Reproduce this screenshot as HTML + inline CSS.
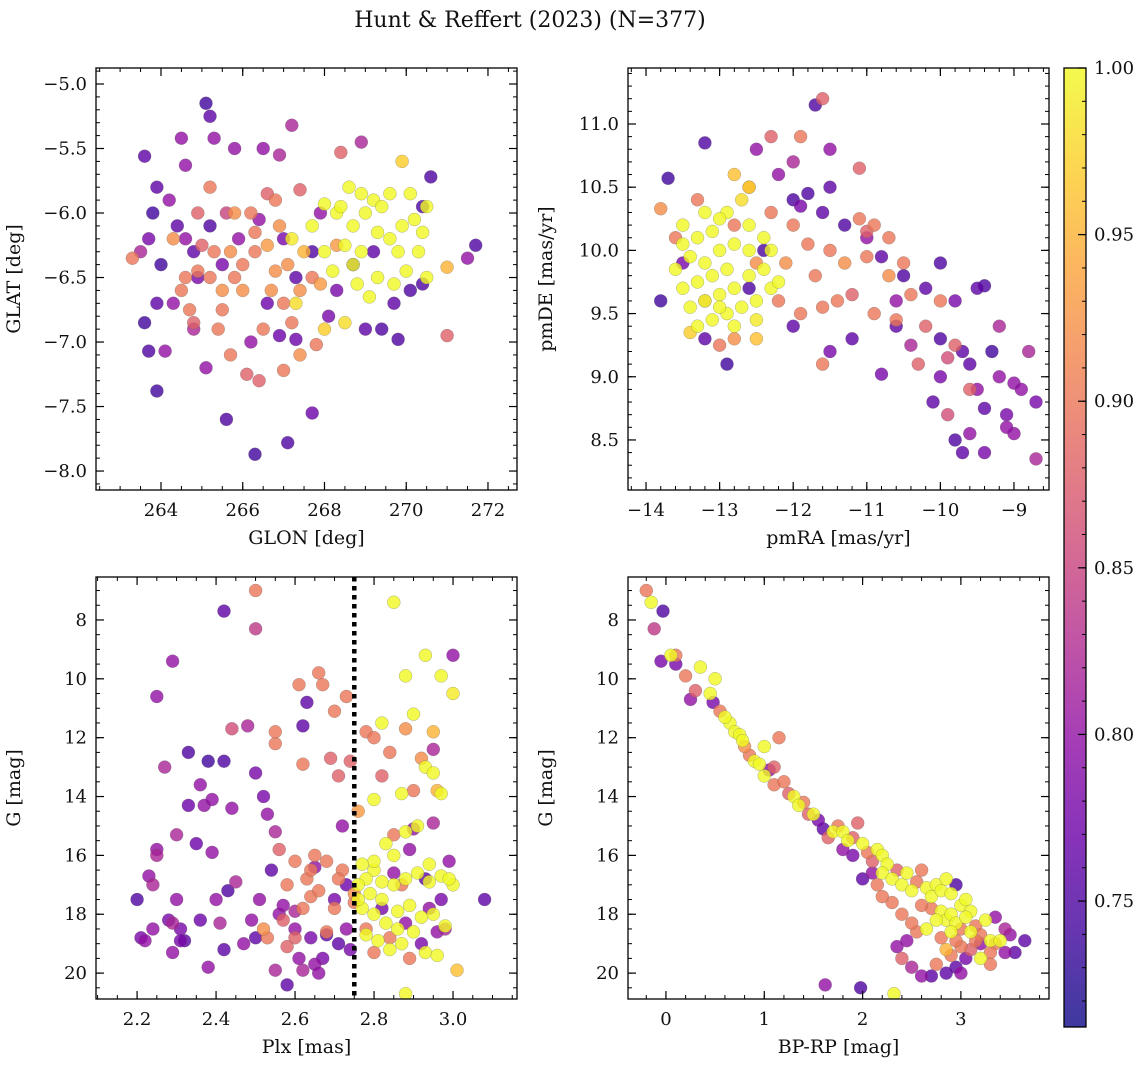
<!DOCTYPE html>
<html><head><meta charset="utf-8"><style>
html,body{margin:0;padding:0;background:#fff;}
svg{display:block;font-family:"DejaVu Serif","Liberation Serif",serif;}
</style></head><body>
<svg id="fig" width="1148" height="1067" viewBox="0 0 1148 1067" xmlns="http://www.w3.org/2000/svg">
<text x="530" y="27" font-size="22" text-anchor="middle" fill="#111">Hunt &amp; Reffert (2023) (N=377)</text>
</svg>
<script>
// Panel 1: GLON / GLAT / membership probability
const p1x=[265.1,265.2,264.5,264.6,263.6,265.3,265.8,266.5,267.2,266.9,263.9,263.8,263.7,263.5,264.2,264.4,264.0,263.9,263.6,263.7,264.1,263.9,264.3,264.8,265.1,265.6,266.3,267.1,267.7,266.2,266.6,265.5,265.9,266.4,267.0,267.3,267.7,268.3,268.7,269.2,269.0,269.4,269.7,270.1,270.4,269.8,270.6,270.4,271.7,271.5,268.9,267.9,268.1,265.2,264.9,266.9,267.3,264.8,265.6,264.6,
263.3,264.3,264.6,264.9,265.2,265.5,265.8,266.0,266.3,266.7,267.0,267.4,267.7,266.2,265.8,265.2,265.0,264.7,264.8,265.4,265.7,266.1,266.4,267.0,267.4,267.2,266.5,266.0,266.3,266.8,266.9,267.5,267.9,268.3,267.8,268.4,267.4,266.6,265.7,264.5,265.5,266.8,266.6,267.1,271.0,271.0,264.9,265.3,
268.0,268.3,268.6,268.9,269.2,269.6,269.9,269.0,268.7,268.5,268.9,269.3,269.6,269.9,270.2,270.5,270.3,270.0,269.7,269.3,268.8,268.2,268.0,267.7,269.1,268.5,268.0,267.3,270.5,269.4,270.1,268.4,269.8,268.7,270.4,267.2];
const p1y=[-5.15,-5.25,-5.42,-5.63,-5.56,-5.42,-5.5,-5.5,-5.32,-5.55,-5.8,-6.0,-6.2,-6.3,-5.9,-6.1,-6.4,-6.7,-6.85,-7.07,-7.07,-7.38,-6.7,-6.9,-7.2,-7.6,-7.87,-7.78,-7.55,-7.0,-6.7,-6.4,-6.2,-6.05,-6.2,-6.5,-6.3,-6.6,-6.4,-6.3,-6.9,-6.9,-6.7,-6.6,-6.55,-6.98,-5.72,-5.95,-6.25,-6.35,-5.45,-6.0,-6.8,-6.1,-6.5,-6.95,-6.98,-6.3,-6.0,-6.2,
-6.35,-6.2,-6.5,-6.45,-6.5,-6.6,-6.5,-6.4,-6.3,-6.6,-6.7,-6.6,-6.5,-6.0,-6.0,-5.8,-6.25,-6.75,-6.85,-6.9,-7.1,-7.25,-7.3,-7.22,-7.1,-6.85,-6.9,-6.6,-6.15,-5.9,-6.1,-6.3,-6.55,-6.25,-7.02,-5.53,-5.82,-5.85,-6.3,-6.6,-6.75,-6.45,-6.25,-6.4,-6.95,-6.42,-6.0,-6.3,
-5.93,-6.0,-5.8,-5.85,-5.9,-5.85,-5.6,-6.0,-6.1,-6.25,-6.3,-6.15,-6.2,-6.1,-6.05,-5.95,-6.3,-6.45,-6.55,-6.5,-6.55,-6.45,-6.3,-6.1,-6.65,-6.85,-6.9,-6.7,-6.5,-5.95,-5.85,-5.95,-6.3,-6.4,-6.15,-6.2];
const p1c=[0.74,0.76,0.8,0.8,0.76,0.8,0.8,0.8,0.82,0.82,0.76,0.74,0.78,0.82,0.8,0.76,0.74,0.76,0.74,0.75,0.8,0.74,0.8,0.82,0.8,0.75,0.74,0.75,0.77,0.8,0.77,0.78,0.8,0.8,0.78,0.76,0.75,0.78,0.74,0.76,0.76,0.75,0.76,0.75,0.75,0.75,0.75,0.75,0.75,0.8,0.82,0.8,0.78,0.75,0.78,0.77,0.77,0.76,0.85,0.8,
0.9,0.92,0.9,0.9,0.9,0.92,0.9,0.9,0.9,0.92,0.9,0.92,0.9,0.9,0.92,0.9,0.88,0.9,0.88,0.9,0.9,0.88,0.88,0.9,0.92,0.9,0.9,0.92,0.9,0.9,0.92,0.95,0.93,0.93,0.9,0.88,0.88,0.88,0.92,0.9,0.9,0.92,0.93,0.92,0.88,0.95,0.88,0.9,
1,1,1,1,1,1,0.97,1,1,1,1,1,1,1,1,1,1,1,1,1,1,1,1,1,1,0.98,0.97,0.98,1,1,1,1,1,1,1,0.99];

// Panel 2: pmRA / pmDE
const p2x=[-11.7,-13.2,-13.7,-13.8,-13.5,-13.2,-12.9,-12.4,-12.2,-12.0,-11.8,-11.5,-11.6,-11.3,-11.0,-10.8,-10.5,-10.0,-10.2,-9.8,-9.5,-9.4,-10.0,-9.7,-9.3,-9.6,-10.0,-10.1,-9.5,-9.2,-9.0,-8.9,-9.1,-9.4,-9.8,-9.7,-9.4,-9.6,-9.0,-8.8,-8.7,-8.7,-9.1,-10.6,-11.2,-11.5,-10.8,-12.0,-12.6,-11.9,-9.2,-10.4,-12.5,-12.0,-11.5,-10.6,
-13.8,-13.6,-13.3,-12.8,-12.6,-12.3,-12.0,-11.8,-11.5,-11.3,-11.0,-10.7,-10.9,-11.1,-11.0,-11.4,-11.7,-12.1,-12.2,-11.9,-11.6,-11.2,-10.9,-10.6,-10.4,-10.2,-10.0,-10.3,-9.9,-9.8,-9.6,-9.9,-11.6,-11.9,-12.3,-12.8,-12.8,-12.5,-13.4,-13.0,-11.1,-10.7,-13.2,-11.6,-12.5,-10.5,
-13.5,-13.3,-13.1,-13.4,-13.2,-13.0,-12.8,-12.6,-12.9,-13.1,-13.3,-13.5,-13.4,-13.2,-13.0,-12.8,-12.6,-12.4,-12.7,-12.9,-13.1,-12.5,-12.3,-12.6,-12.9,-12.7,-12.6,-13.6,-13.5,-13.0,-12.3,-12.2,-13.2,-12.8,-12.5,-13.3,-12.4,-13.0];
const p2y=[11.15,10.85,10.57,9.6,9.9,9.3,9.1,10.0,10.6,10.4,10.45,10.5,10.3,10.2,10.1,9.95,9.8,9.9,9.7,9.6,9.7,9.72,9.3,9.2,9.2,9.1,9.0,8.8,8.9,9.0,8.95,8.9,8.7,8.75,8.5,8.4,8.4,8.55,8.55,9.2,8.8,8.35,8.6,9.4,9.3,9.2,9.02,9.4,9.7,10.35,9.4,9.25,10.8,10.7,10.8,9.6,
10.33,10.1,10.4,10.2,10.5,10.3,10.2,10.05,10.0,9.9,9.95,9.8,10.2,10.25,10.15,9.6,9.8,9.9,9.6,9.5,9.55,9.65,9.5,9.45,9.65,9.4,9.6,9.1,9.15,9.25,8.9,8.7,11.2,10.9,10.9,10.6,9.3,9.3,9.35,9.25,10.65,10.1,9.6,9.1,9.9,9.9,
10.2,10.1,10.15,9.95,9.9,10.0,10.05,10.0,9.85,9.8,9.75,9.7,9.55,9.6,9.65,9.7,9.8,9.85,9.55,9.5,9.45,9.6,9.7,10.2,10.3,10.4,10.5,9.85,10.05,10.25,10.0,9.75,10.3,9.4,9.45,9.4,10.1,9.55];
const p2c=[0.75,0.75,0.74,0.74,0.78,0.76,0.74,0.75,0.8,0.75,0.75,0.76,0.76,0.75,0.8,0.76,0.75,0.75,0.76,0.78,0.76,0.75,0.75,0.76,0.74,0.76,0.78,0.76,0.8,0.8,0.8,0.8,0.78,0.76,0.75,0.76,0.78,0.8,0.8,0.82,0.78,0.82,0.8,0.76,0.76,0.78,0.78,0.76,0.75,0.78,0.82,0.82,0.8,0.82,0.8,0.8,
0.92,0.9,0.9,0.9,0.92,0.9,0.9,0.9,0.9,0.92,0.9,0.92,0.9,0.9,0.88,0.9,0.9,0.92,0.9,0.9,0.9,0.88,0.9,0.9,0.9,0.88,0.9,0.88,0.86,0.88,0.88,0.86,0.88,0.9,0.88,0.96,0.92,0.96,0.97,0.9,0.88,0.9,0.9,0.9,0.92,0.9,
1,1,1,1,1,1,1,1,1,1,1,1,1,1,1,1,1,1,1,1,1,1,1,1,1,0.98,0.97,1,1,1,1,1,1,1,0.99,1,1,1];

// Panel 3: Plx / G
const p3x=[2.2,2.21,2.22,2.23,2.24,2.25,2.25,2.25,2.24,2.27,2.28,2.29,2.29,2.29,2.3,2.3,2.31,2.31,2.32,2.33,2.33,2.35,2.36,2.36,2.37,2.38,2.38,2.39,2.39,2.4,2.41,2.42,2.42,2.43,2.44,2.45,2.42,2.47,2.48,2.49,2.5,2.5,2.51,2.52,2.53,2.54,2.55,2.56,2.57,2.58,2.6,2.61,2.62,2.63,2.64,2.65,2.66,2.67,2.68,2.7,2.71,2.72,2.73,2.74,2.73,2.55,2.6,2.62,2.5,2.65,2.9,2.93,2.94,2.95,2.96,2.97,2.92,2.88,2.85,2.89,3.0,3.08,2.98,2.95,2.99,2.82,
2.5,2.55,2.56,2.58,2.6,2.61,2.62,2.63,2.64,2.65,2.66,2.67,2.68,2.69,2.7,2.71,2.72,2.73,2.74,2.75,2.76,2.78,2.8,2.82,2.84,2.85,2.87,2.88,2.9,2.92,2.95,2.96,3.01,2.7,2.68,2.64,2.6,2.57,2.62,2.66,2.71,2.78,2.8,2.84,2.89,2.75,2.58,2.53,2.55,2.44,2.52,
2.85,2.88,2.93,2.97,3.0,2.82,2.9,2.93,2.95,2.97,2.8,2.87,2.91,2.88,2.85,2.8,2.78,2.76,2.79,2.82,2.85,2.88,2.91,2.94,2.97,3.0,2.77,2.8,2.83,2.86,2.89,2.92,2.95,2.98,2.78,2.81,2.84,2.87,2.9,2.93,2.96,2.8,2.83,2.86,2.77,2.88,2.76,2.82,2.94,2.99];
const p3y=[17.5,18.8,18.9,16.7,17.0,15.8,16.0,10.6,18.5,13.0,18.2,9.4,18.3,19.3,17.5,15.3,18.5,18.9,18.9,14.3,12.5,15.6,13.6,18.2,14.3,12.8,19.8,14.1,15.9,17.5,18.3,12.8,19.2,17.2,14.4,16.9,7.7,19.0,11.6,18.2,13.2,18.8,17.5,14.0,14.6,16.5,19.9,18.0,17.7,20.4,18.5,19.5,11.6,10.8,18.8,19.7,20.0,19.5,18.7,17.5,19.0,15.0,18.5,19.2,17.0,15.2,17.9,19.9,8.3,16.4,15.1,16.8,17.8,12.4,18.6,17.5,19.0,18.3,16.6,15.8,9.2,17.5,18.5,14.9,16.2,17.8,
7.0,12.2,15.8,17.0,16.2,10.2,12.9,16.8,17.4,16.0,9.8,10.2,16.2,12.7,11.1,13.3,16.5,10.6,12.8,17.6,14.5,11.8,12.0,13.3,12.5,15.3,17.0,11.7,13.8,12.7,11.8,13.8,19.9,17.8,18.6,16.5,18.8,18.2,17.8,17.2,16.8,18.5,19.3,18.8,19.5,17.3,19.1,18.8,11.8,11.7,18.5,
7.4,9.9,9.2,9.9,10.5,11.5,11.2,13.0,13.2,13.9,14.1,13.9,15.0,15.2,16.0,16.5,16.8,17.0,17.3,17.5,17.0,16.8,16.6,16.9,16.7,17.0,17.8,18.0,18.3,17.9,17.7,18.1,18.0,18.4,18.7,18.9,19.2,19.0,18.6,19.3,19.4,16.2,15.6,18.5,16.3,20.7,17.5,16.9,16.3,16.8];
const p3c=[0.75,0.78,0.8,0.8,0.82,0.8,0.82,0.8,0.8,0.82,0.78,0.8,0.82,0.8,0.8,0.82,0.78,0.78,0.76,0.77,0.75,0.77,0.8,0.77,0.8,0.74,0.8,0.8,0.8,0.8,0.82,0.75,0.76,0.75,0.8,0.82,0.76,0.8,0.82,0.8,0.78,0.76,0.8,0.78,0.8,0.76,0.82,0.8,0.8,0.76,0.8,0.8,0.76,0.76,0.78,0.8,0.8,0.78,0.76,0.78,0.76,0.8,0.8,0.78,0.77,0.82,0.82,0.82,0.84,0.8,0.8,0.76,0.8,0.82,0.8,0.78,0.78,0.8,0.8,0.8,0.8,0.76,0.82,0.82,0.8,0.78,
0.9,0.9,0.88,0.9,0.9,0.9,0.9,0.9,0.9,0.9,0.9,0.9,0.9,0.88,0.9,0.88,0.9,0.9,0.88,0.9,0.93,0.9,0.9,0.88,0.9,0.9,0.9,0.92,0.9,0.92,0.95,0.95,0.96,0.9,0.9,0.9,0.88,0.88,0.9,0.9,0.9,0.9,0.9,0.9,0.9,0.92,0.88,0.9,0.9,0.86,0.92,
1,1,1,1,0.99,1,1,1,1,1,1,1,1,1,1,1,1,1,1,1,1,1,1,1,1,1,1,1,1,1,1,1,1,1,1,1,1,1,1,1,1,1,1,1,1,1,1,1,1,1];

// Panel 4: BP-RP / G
const p4x=[-0.2,-0.15,-0.12,-0.03,-0.05,0.05,0.1,0.1,0.2,0.3,0.25,0.35,0.45,0.5,0.48,0.55,0.65,0.7,0.75,0.78,0.8,0.85,0.9,0.95,1.0,1.0,1.05,1.1,1.2,1.15,1.3,1.35,1.4,1.45,1.5,1.55,1.6,1.7,1.75,1.8,1.65,1.85,1.9,1.95,2.0,1.8,1.9,2.05,2.1,2.15,2.2,2.25,2.2,2.1,2.0,2.15,2.3,2.35,2.4,2.45,2.5,2.55,2.6,2.65,2.7,2.75,2.8,2.85,2.9,2.95,2.7,2.8,2.85,2.9,2.95,3.0,3.05,3.1,3.0,3.1,3.15,3.2,3.25,3.3,3.35,3.4,3.3,3.2,3.1,3.0,3.05,2.95,2.85,2.7,2.6,2.5,2.4,2.45,2.35,2.55,2.75,2.9,3.45,3.55,3.65,3.5,3.45,3.35,2.6,2.5,2.3,2.2,2.4,2.65,2.8,3.15,2.95,1.62,1.98,2.32,3.3,2.75,2.9,3.05,0.6,1.1,1.25,2.85,3.2,3.0];
const p4y=[7.0,7.4,8.3,7.7,9.4,9.2,9.2,9.5,9.9,10.4,10.7,9.6,10.5,10.0,10.8,11.1,11.5,11.8,11.9,12.1,12.3,12.6,12.8,12.9,12.3,13.3,13.1,13.6,13.5,12.0,14.0,14.3,14.2,14.6,14.6,14.8,15.1,15.2,15.0,15.2,15.4,15.5,15.4,14.9,15.6,15.8,16.0,15.9,16.2,15.8,16.0,16.3,16.6,16.6,16.8,17.0,16.8,16.5,17.0,16.6,17.2,16.9,16.5,17.1,17.4,17.0,17.2,16.8,17.3,17.0,17.8,17.9,18.2,18.0,18.3,17.7,17.5,17.9,18.5,18.6,18.4,18.7,18.2,18.9,19.0,18.9,19.3,19.5,19.2,19.1,19.5,19.8,20.0,20.1,20.1,19.8,19.5,18.9,19.1,18.6,19.7,19.4,19.3,19.3,18.9,18.7,18.5,18.1,17.7,18.3,17.6,17.4,18.0,18.5,18.8,18.9,18.9,20.4,20.5,20.7,19.7,18.2,18.6,18.1,11.3,13.0,13.9,19.2,19.0,20.0];
const p4c=[0.9,1,0.84,0.75,0.78,1,0.9,0.78,0.9,0.88,0.8,1,1,1,0.78,0.9,1,1,1,1,0.92,0.9,1,1,1,1,0.8,0.9,0.9,0.9,1,1,0.9,0.88,1,0.78,0.76,1,0.9,1,0.88,1,0.88,0.88,1,0.8,0.78,0.9,0.88,1,1,1,1,0.8,0.76,0.9,1,0.88,1,1,1,0.9,0.9,1,1,1,1,1,1,0.75,0.9,1,1,1,1,1,1,1,0.9,1,0.9,0.9,1,1,0.9,1,0.9,1,0.88,0.9,0.78,0.76,0.76,0.76,0.8,0.82,0.88,0.8,0.8,0.9,0.9,0.9,0.8,0.76,0.76,0.8,0.82,0.8,0.9,0.9,0.9,0.9,0.9,1,0.9,0.9,0.9,0.8,0.75,1,0.9,1,1,1,1,0.88,0.88,0.95,0.8,0.8];

const VMIN=0.7122, VMAX=1.0;
const stops=[[13,8,135],[65,4,157],[106,0,168],[143,13,164],[177,42,144],[204,71,120],[225,100,98],[242,132,75],[252,166,54],[252,206,37],[240,249,33]];
function plasma(v){let t=Math.max(0,Math.min(1,(v-VMIN)/(VMAX-VMIN)))*10;let i=Math.min(9,Math.floor(t));let f=t-i;const a=stops[i],b=stops[i+1];return 'rgb('+a.map((c,k)=>Math.round(c+(b[k]-c)*f)).join(',')+')';}
const NS='http://www.w3.org/2000/svg';
const svg=document.getElementById('fig');
function mk(tag,attrs,parent){const e=document.createElementNS(NS,tag);for(const k in attrs)e.setAttribute(k,attrs[k]);(parent||svg).appendChild(e);return e;}

const panels=[
 {name:'glon-glat',L:96,R:517,T:68,B:490,x0:262.41,x1:272.71,y0:-8.147,y1:-4.876,inv:false,xt:[264,266,268,270,272],xmin:0.5,yt:[-8.0,-7.5,-7.0,-6.5,-6.0,-5.5,-5.0],ymin:0.1,yd:1,xd:0,xl:'GLON [deg]',yl:'GLAT [deg]',xs:p1x,ys:p1y,cs:p1c},
 {name:'pmra-pmde',L:628,R:1049,T:68,B:490,x0:-14.245,x1:-8.524,y0:8.104,y1:11.443,inv:false,xt:[-14,-13,-12,-11,-10,-9],xmin:0.2,yt:[8.5,9.0,9.5,10.0,10.5,11.0],ymin:0.1,yd:1,xd:0,xl:'pmRA [mas/yr]',yl:'pmDE [mas/yr]',xs:p2x,ys:p2y,cs:p2c},
 {name:'plx-g',L:96,R:517,T:577,B:999,x0:2.096,x1:3.162,y0:6.54,y1:20.88,inv:true,xt:[2.2,2.4,2.6,2.8,3.0],xmin:0.05,yt:[8,10,12,14,16,18,20],ymin:0.5,yd:0,xd:1,xl:'Plx [mas]',yl:'G [mag]',xs:p3x,ys:p3y,cs:p3c},
 {name:'bprp-g',L:628,R:1049,T:577,B:999,x0:-0.386,x1:3.896,y0:6.54,y1:20.88,inv:true,xt:[0,1,2,3],xmin:0.2,yt:[8,10,12,14,16,18,20],ymin:0.5,yd:0,xd:0,xl:'BP-RP [mag]',yl:'G [mag]',xs:p4x,ys:p4y,cs:p4c}
];

panels.forEach(P=>{
 const g=mk('g',{});
 
 
 const sx=v=>P.L+(v-P.x0)/(P.x1-P.x0)*(P.R-P.L);
 const sy=v=>P.inv? P.T+(v-P.y0)/(P.y1-P.y0)*(P.B-P.T) : P.B-(v-P.y0)/(P.y1-P.y0)*(P.B-P.T);
 const cp=mk('clipPath',{id:'cp-'+P.name},g);
 mk('rect',{x:P.L,y:P.T,width:P.R-P.L,height:P.B-P.T},cp);
 const pts=mk('g',{'clip-path':'url(#cp-'+P.name+')'},g);
 const idx=P.xs.map((_,i)=>i).sort((a,b)=>P.cs[a]-P.cs[b]);
 idx.forEach(i=>{
  const c=mk('circle',{cx:sx(P.xs[i]).toFixed(1),cy:sy(P.ys[i]).toFixed(1),r:6.5,fill:plasma(P.cs[i]),'fill-opacity':0.8,stroke:'#666','stroke-opacity':0.5,'stroke-width':0.5},pts);
  
  
 });
 if(P.name==='plx-g'){
  const l=mk('line',{x1:sx(2.75),x2:sx(2.75),y1:P.T,y2:P.B,stroke:'#000','stroke-width':4.5,'stroke-dasharray':'4.5,4.5'},g);
  
  
 }
 mk('rect',{x:P.L,y:P.T,width:P.R-P.L,height:P.B-P.T,fill:'none',stroke:'#000','stroke-width':1.3},g);
 const eps=1e-9;
 for(let v=Math.ceil(P.x0/P.xmin)*P.xmin;v<=P.x1+eps;v+=P.xmin){const x=sx(v);mk('line',{x1:x,x2:x,y1:P.B,y2:P.B-4,stroke:'#000','stroke-width':1},g);mk('line',{x1:x,x2:x,y1:P.T,y2:P.T+4,stroke:'#000','stroke-width':1},g);}
 for(let v=Math.ceil(P.y0/P.ymin)*P.ymin;v<=P.y1+eps;v+=P.ymin){const y=sy(v);mk('line',{x1:P.L,x2:P.L+4,y1:y,y2:y,stroke:'#000','stroke-width':1},g);mk('line',{x1:P.R,x2:P.R-4,y1:y,y2:y,stroke:'#000','stroke-width':1},g);}
 P.xt.forEach(v=>{const x=sx(v);mk('line',{x1:x,x2:x,y1:P.B,y2:P.B-8,stroke:'#000','stroke-width':1.2},g);mk('line',{x1:x,x2:x,y1:P.T,y2:P.T+8,stroke:'#000','stroke-width':1.2},g);
  const t=mk('text',{x:x,y:P.B+26,'font-size':18,'text-anchor':'middle',fill:'#111'},g);t.textContent=(v<0?'\u2212':'')+Math.abs(v).toFixed(P.xd);
  });
 P.yt.forEach(v=>{const y=sy(v);mk('line',{x1:P.L,x2:P.L+8,y1:y,y2:y,stroke:'#000','stroke-width':1.2},g);mk('line',{x1:P.R,x2:P.R-8,y1:y,y2:y,stroke:'#000','stroke-width':1.2},g);
  const t=mk('text',{x:P.L-9,y:y+6,'font-size':18,'text-anchor':'end',fill:'#111'},g);t.textContent=(v<0?'\u2212':'')+Math.abs(v).toFixed(P.yd);
  });
 const xl=mk('text',{x:(P.L+P.R)/2,y:P.B+54,'font-size':19,'text-anchor':'middle',fill:'#111'},g);xl.textContent=P.xl;
 
 const yx=P.L-76;const yc=(P.T+P.B)/2;
 const yl=mk('text',{x:yx,y:yc,'font-size':19,'text-anchor':'middle',fill:'#111',transform:'rotate(-90 '+yx+' '+yc+')'},g);yl.textContent=P.yl;
 
});

// Colorbar
const cbTicks=[0.75,0.80,0.85,0.90,0.95,1.00];
const cb=mk('g',{});


const CL=1064,CR=1086,CT=68,CB=1027;
const cy=v=>CB-(v-VMIN)/(VMAX-VMIN)*(CB-CT);
const defs=mk('defs',{},cb);
const grad=mk('linearGradient',{id:'cbg',x1:0,y1:1,x2:0,y2:0},defs);
stops.forEach((s,i)=>mk('stop',{offset:(i/10),'stop-color':'rgb('+s.join(',')+')'},grad));
mk('rect',{x:CL,y:CT,width:CR-CL,height:CB-CT,fill:'url(#cbg)','fill-opacity':0.8},cb);
mk('rect',{x:CL,y:CT,width:CR-CL,height:CB-CT,fill:'none',stroke:'#000','stroke-width':1.3},cb);
for(let v=0.72;v<=1.0001;v+=0.01){const y=cy(v);mk('line',{x1:CR,x2:CR-4,y1:y,y2:y,stroke:'#000'},cb);}
cbTicks.forEach(v=>{const y=cy(v);mk('line',{x1:CR,x2:CR-8,y1:y,y2:y,stroke:'#000','stroke-width':1.2},cb);
 const t=mk('text',{x:CR+8,y:y+6,'font-size':18,fill:'#111'},cb);t.textContent=v.toFixed(2);
 });
</script>
</body></html>
